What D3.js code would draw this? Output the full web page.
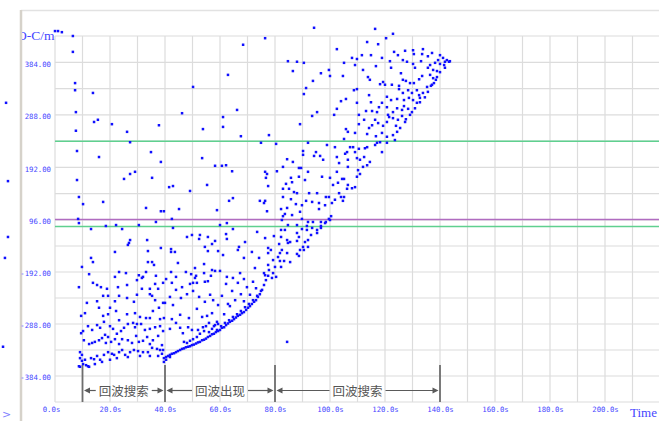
<!DOCTYPE html>
<html>
<head>
<meta charset="utf-8">
<script src="https://cdn.jsdelivr.net/npm/d3@7"></script>
<style>
  html, body { margin: 0; padding: 0; background: #fff; }
  svg { display: block; }
</style>
</head>
<body>
<svg id="chart" width="659" height="421"></svg>
<script>
// ---- axes ----
const xTickValues = [0, 20, 40, 60, 80, 100, 120, 140, 160, 180, 200];
const xGridValues = d3.range(0, 221, 10);
const yTickValues = [384, 288, 192, 96, -192, -288, -384];
const yGridValues = [432, 384, 336, 288, 240, 192, 144, 96, -48, -192, -240, -288, -336, -384, -432];

// ---- horizontal reference levels ----
const refLevels = [240, 97, 60];
const refColors = ["#5fd08f", "#b06cc0", "#5fd08f"];

// ---- phase annotation (seconds) ----
const phaseBounds = [10, 40, 80, 140];
const phaseNames = ["回波搜索", "回波出现", "回波搜索"];

// ---- samples [time s, O-C] ----
const earlyHigh = [
  [0.0,441],[1.1,441],[2.5,439],[6.5,432],[6.5,403],[7.3,346],[7.3,333],[13.8,328],[7.6,293],[14.2,275],
  [15.6,279],[20.7,271],[26.2,257],[37.8,269],[46.2,291],[50.2,339],[53.8,262],[7.6,259],
  [8.0,222],[16.0,211],[27.3,238],[34.9,220],[8.0,169],[8.7,138],[10.2,125],[17.5,129],[25.1,171],[27.3,180],
  [29.1,184],[35.3,173],[38.5,202],[41.5,156],[42.9,158],[49.1,149],[53.5,209],[55.3,160],[58.2,195],[58.9,114],
  [33.1,118],[38.5,112],[39.6,112],[45.1,116]
];
const earlyMid = [
  [8.4,98],[8.7,79],[13.1,46],[18.5,63],[22.2,68],[24.4,46],[30.5,68],[36.7,85],[42.5,98],[42.9,52],
  [48.0,2],[49.8,13],[52.4,-9],[52.7,13],[55.6,2],[54.5,-53],[55.6,-76],[57.1,-37],[58.2,-20],[59.3,-76],
  [27.3,-15],[26.9,-31],[26.5,-42],[33.5,-15],[42.2,-65],[13.1,-114],[13.8,-137],[21.8,-81],[33.8,-76],[33.8,-137],
  [35.3,-137],[36.0,-153],[38.5,-59],[42.2,-81],[43.6,-81],[44.7,-142],[9.8,-164],[12.4,-196],[21.8,-201],[23.3,-192],
  [25.8,-194],[30.5,-198],[32.0,-201],[33.1,-192],[36.7,-199],[42.2,-192],[44.0,-201],[31.6,-203],[36.4,-214],[40.4,-205],
  [47.6,-192],[49.5,-196],[50.9,-203],[51.3,-199],[54.2,-194],[55.6,-209],[56.7,-199],[58.2,-186],[50.9,-170],[54.2,-148],
  [57.1,-181]
];
const earlyLow = [
  [8.7,-220],[13.8,-212],[15.3,-216],[16.7,-220],[18.9,-223],[22.9,-220],[26.2,-216],[29.8,-207],[31.6,-223],[34.5,-223],
  [37.5,-223],[39.3,-212],[42.5,-212],[46.2,-220],[49.1,-214],[50.2,-212],[51.6,-212],[54.5,-210],
  [11.6,-249],[15.3,-246],[17.5,-236],[19.3,-236],[21.8,-246],[23.3,-236],[26.2,-240],[28.7,-247],[29.8,-234],[34.5,-233],
  [35.3,-236],[36.4,-244],[39.3,-249],[40.0,-249],[41.8,-238],[42.9,-253],[44.0,-225],[45.8,-240],[48.0,-233],[50.2,-227],
  [52.4,-238],[54.5,-247],[56.4,-234],[57.5,-244],[59.3,-253],
  [9.5,-273],[10.9,-268],[16.0,-258],[17.5,-273],[19.3,-270],[20.0,-258],[22.2,-264],[23.3,-281],[26.2,-270],[29.1,-268],
  [30.9,-275],[33.1,-277],[34.5,-277],[35.6,-264],[37.8,-258],[38.2,-279],[39.6,-277],[42.5,-279],[45.5,-271],[48.7,-277],
  [51.6,-260],[53.5,-275],[55.3,-273],[57.1,-268],[58.9,-284],
  [9.5,-305],[10.2,-301],[12.0,-292],[13.5,-299],[15.3,-290],[16.4,-295],[17.8,-284],[18.2,-308],[20.0,-292],[21.1,-297],
  [22.5,-306],[24.0,-301],[25.1,-295],[26.5,-288],[28.4,-286],[29.1,-294],[29.8,-288],[31.3,-288],[32.7,-299],[34.5,-297],
  [36.4,-294],[38.2,-292],[39.3,-301],[41.8,-297],[44.0,-286],[45.5,-295],[46.5,-305],[48.4,-294],[49.8,-299],[52.0,-299],
  [53.8,-294],[54.9,-292],[56.0,-286],[57.8,-292],[58.9,-299],
  [10.5,-318],[12.4,-325],[13.5,-323],[14.5,-321],[16.0,-318],[17.1,-314],[18.5,-323],[19.3,-312],[20.4,-321],[21.8,-316],
  [23.3,-325],[24.4,-316],[26.5,-318],[28.0,-323],[29.5,-310],[30.5,-321],[32.0,-319],[33.5,-312],[34.5,-325],[35.6,-318],
  [37.5,-310],[38.9,-327],[46.9,-321],[48.0,-323],[49.1,-319],[50.2,-316],[51.6,-312],[52.7,-306],[54.2,-301],[56.0,-303],
  [57.1,-297],[58.2,-290],[59.3,-288],
  [9.1,-340],[9.8,-345],[9.1,-351],[9.8,-356],[10.2,-362],[10.9,-354],[12.0,-366],[13.1,-351],[14.2,-353],[15.3,-347],
  [16.4,-354],[17.8,-345],[19.3,-340],[20.7,-343],[21.5,-345],[23.3,-340],[24.4,-336],[25.5,-345],[27.3,-340],[28.7,-336],
  [30.2,-338],[32.0,-340],[33.8,-340],[35.3,-332],[37.1,-334],[38.2,-336],[39.3,-336],[9.1,-367],[11.3,-364],[12.4,-367],
  [8.7,-366],[14.5,-362],[17.1,-358],[20.0,-354],[22.5,-351],[26.5,-349],[30.9,-347],[34.5,-347],[37.5,-347],[38.9,-343]
];
const ridge = [
  [39.6,-351],[40.4,-349],[41.1,-347],[41.8,-345],[42.5,-343],[43.3,-342],[44.0,-340],[44.7,-338],[45.5,-336],[46.2,-334],
  [46.9,-333],[47.6,-331],[48.4,-330],[49.1,-329],[49.8,-327],[50.5,-326],[51.3,-324],[52.0,-322],[52.7,-321],[53.5,-318],
  [54.2,-317],[54.9,-315],[55.6,-312],[56.4,-310],[57.1,-307],[57.8,-306],[58.5,-303],[59.3,-301],[60.0,-299],[60.7,-295],
  [61.5,-294],[62.2,-290],[62.9,-287],[63.6,-284],[64.4,-282],[65.1,-279],[65.8,-276],[66.5,-273],[67.3,-271],[68.0,-268],
  [68.7,-266],[69.5,-262],[70.2,-258],[70.9,-255],[71.6,-251],[72.4,-247],[73.1,-244],[73.8,-238],[74.5,-233],[75.3,-225],
  [60.4,-292],[61.8,-286],[63.3,-281],[64.7,-275],[66.2,-270],[67.6,-264],[69.1,-257],[70.5,-251],[72.0,-244],[73.5,-236],
  [74.9,-227],[76.0,-216],[76.7,-207],[77.5,-199],[39.6,-358],[40.4,-354],[41.8,-349]
];
const middle = [
  [60.7,-236],[62.2,-214],[63.6,-255],[64.4,-227],[65.5,-244],[66.5,-212],[67.6,-233],[68.7,-246],[69.8,-220],[70.9,-234],
  [72.0,-210],[61.5,-270],[62.9,-251],[73.1,-222],[84.4,-321],
  [74.9,237],[80.4,235],[92.0,237],[98.9,233],[101.8,229],[106.2,220],[107.3,229],[108.4,229],[109.1,220],[110.5,226],
  [112.7,227],[113.5,229],[116.4,233],[117.1,237],[118.2,238],[120.7,237],[118.9,220],[90.2,222],[90.2,215],[94.9,220],
  [94.2,213],[96.4,213],[97.5,206],[102.5,211],[103.3,200],[105.5,217],[106.5,206],[109.8,209],[110.9,206],[112.4,211],
  [114.5,202],[113.5,196],[112.0,193],[110.2,187],[110.9,180],[109.8,175],[106.5,193],[102.5,184],[84.4,207],[86.5,202],
  [82.9,193],[88.7,191],[89.5,191],[92.0,184],[88.7,175],[90.9,169],[97.1,175],[100.0,173],[101.1,160],[102.9,164],
  [104.4,171],[105.1,171],[106.5,160],[108.0,154],[109.1,156],[106.2,153],[85.8,173],[86.2,165],[84.0,162],[82.9,153],
  [85.1,153],[86.9,147],[88.0,145],[92.4,145],[95.3,145],[98.5,138],[99.6,138],[103.3,145],[104.0,138],[105.1,138],
  [104.7,131],[101.8,133],[100.7,127],[98.2,123],[96.0,127],[93.5,129],[91.3,131],[89.8,123],[87.6,125],[85.8,134],
  [82.9,138],[82.2,116],[84.4,118],[89.1,111],[96.0,116],[82.9,103],[83.6,107],[86.2,105],[82.5,96],[89.8,98],
  [92.0,85],[93.8,85],[96.7,85],[98.5,85],[100.0,96],[100.4,103],[99.6,98],[98.2,79],[96.7,63],[95.3,41],
  [96.7,52],[93.5,52],[91.6,63],[91.6,41],[88.0,68],[84.7,68],[82.2,41],[76.4,131],[74.5,131],[76.0,127],
  [77.1,112],[77.5,158],[76.4,184],[77.1,180],[76.7,173],[80.7,185],[60.7,195],[62.2,196],[64.4,185],[63.3,131],
  [64.7,136],[60.0,68],[62.5,79],[64.7,46],[73.5,30],[83.6,41],[88.0,24],[89.8,46],[62.2,18],[62.5,-9],
  [69.1,-26],[66.9,-53],[66.5,-70],[68.7,-114],[71.6,-81],[61.1,-98],[76.4,-4],[79.6,7],[82.2,2],[84.4,-15],
  [88.7,2],[85.5,-26],[90.9,-26],[92.0,-15],[93.1,13],[95.3,24],[81.5,-37],[84.7,-31],[88.0,-20],[90.2,-53],
  [92.0,-53],[89.1,-70],[90.5,-70],[77.5,-59],[78.5,-70],[77.5,-87],[74.2,-114],[82.5,-70],[81.8,-87],[81.1,-109],
  [84.4,-87],[88.0,-92],[88.7,-103],[85.5,-137],[83.3,-131],[81.8,-131],[79.3,-126],[77.5,-153],[80.0,-164],[82.2,-164],
  [72.7,-170],[77.8,-181],[76.0,-194],[76.4,-198],[79.3,-194],[80.4,-201],[78.9,-203],[60.0,-186],[62.5,-201],[64.7,-203],
  [67.3,-194],[68.7,-205]
];
const lateHigh = [
  [94.2,447],[76.4,428],[116.4,445],[122.9,436],[120.4,428],[113.5,421],[117.5,417],[68.4,416],[102.5,408],[133.8,408],
  [130.2,406],[123.3,403],[127.3,405],[137.1,401],[111.6,397],[114.9,397],[124.7,397],[130.5,399],[133.5,399],[135.6,395],
  [108.0,392],[109.8,390],[118.9,392],[126.5,388],[84.7,386],[88.0,385],[90.5,383],[105.1,383],[109.1,379],[121.8,386],
  [116.7,377],[128.0,385],[130.2,381],[133.1,386],[136.4,379],[138.2,383],[139.3,388],[130.9,374],[122.2,374],[86.5,368],
  [96.7,364],[99.6,370],[112.0,370],[125.8,364],[135.6,374],[137.5,370],[138.9,368],[62.9,361],[100.0,359],[104.7,359],
  [113.8,357],[114.5,352],[119.3,348],[118.2,344],[120.0,343],[122.5,343],[125.1,341],[126.5,352],[127.6,350],[129.1,346],
  [130.5,346],[132.4,353],[133.5,359],[136.4,361],[137.5,355],[138.9,357],[93.8,350],[91.3,337],[90.5,326],[108.7,333],
  [109.8,335],[114.2,324],[120.7,321],[125.1,335],[126.5,328],[128.4,333],[129.8,328],[131.6,333],[132.4,324],[133.8,328],
  [135.3,339],[136.7,341],[137.8,346],[105.8,317],[104.0,313],[109.8,310],[114.9,311],[118.9,310],[122.2,315],[124.4,317],
  [126.9,315],[128.7,319],[130.2,315],[131.6,310],[132.7,319],[66.2,297],[95.3,293],[93.5,286],[101.5,288],[102.5,299],
  [110.5,288],[113.1,295],[115.3,295],[117.1,293],[117.8,302],[120.7,302],[121.1,288],[122.9,293],[124.4,300],[126.2,297],
  [126.9,304],[128.4,299],[129.8,293],[61.1,284],[61.1,266],[89.1,271],[105.8,262],[106.5,257],[110.5,271],[112.4,279],
  [114.2,264],[115.3,269],[116.4,279],[117.5,273],[119.3,268],[120.7,275],[121.5,284],[122.9,282],[124.0,268],[124.7,279],
  [126.2,286],[127.6,280],[113.5,253],[109.1,255],[105.1,244],[77.8,251],[67.6,249],[116.7,249],[118.9,255],[120.7,248],
  [122.9,251],[124.4,257],[123.6,242],[125.5,264],[127.3,275],[129.1,288],[130.9,300],[132.7,311],[134.5,320],[135.6,330],
  [137.1,343],[138.5,352],[140.0,366]
];
const tail = [[140.0,397],[141.1,392],[141.8,385],[142.5,388],[143.3,385],[141.8,374],[140.0,381],[141.5,379],[143.6,386]];
const offAxis = [[-17.8,310],[-17.1,167],[-17.1,2],[-18.2,-114],[-18.9,-330]];

const samples = [].concat(earlyHigh, earlyMid, earlyLow, ridge, middle, lateHigh, tail, offAxis);

// ---- layout ----
const svg = d3.select("#chart");
const plot = { left: 55, right: 659, top: 36, bottom: 402 };

const x = d3.scaleLinear().domain([0, 220]).range([55, 660]);
// the value axis is stretched differently above and below the 96 level
const y = d3.scaleLinear().domain([-432, -192, 96, 432]).range([402, 272, 220, 36]);

const fmt = v => v.toFixed(2);
const blue = "#4646ff";
const monoFont = "'DejaVu Sans Mono', monospace";

// outer frame
svg.append("rect").attr("x", 0).attr("y", 0).attr("width", 659).attr("height", 421).attr("fill", "#fff");
svg.append("line").attr("x1", 21).attr("x2", 659).attr("y1", 10.5).attr("y2", 10.5)
  .attr("stroke", "#e2e2e2").attr("stroke-width", 1.5);
svg.append("line").attr("x1", 21).attr("x2", 21).attr("y1", 10).attr("y2", 421)
  .attr("stroke", "#d6d2ca").attr("stroke-width", 2.5);

// grid
const grid = svg.append("g").attr("stroke", "#dcdcdc").attr("stroke-width", 1.2);
grid.selectAll("line.v").data(xGridValues).join("line")
  .attr("x1", d => x(d)).attr("x2", d => x(d))
  .attr("y1", plot.top).attr("y2", plot.bottom);
grid.selectAll("line.h").data(yGridValues).join("line")
  .attr("x1", plot.left).attr("x2", plot.right)
  .attr("y1", d => y(d)).attr("y2", d => y(d));

// reference levels
svg.append("g").selectAll("line").data(refLevels).join("line")
  .attr("x1", plot.left).attr("x2", plot.right)
  .attr("y1", d => y(d)).attr("y2", d => y(d))
  .attr("stroke", (d, i) => refColors[i]).attr("stroke-width", 1.5);

// y axis labels
const yAxis = d3.axisLeft(y).tickValues(yTickValues).tickFormat(fmt).tickSize(0).tickPadding(0);
const gy = svg.append("g").attr("transform", "translate(51,1.5)").call(yAxis);
gy.select(".domain").remove();
gy.selectAll("text").attr("fill", blue).attr("font-family", monoFont).attr("font-size", 7.3);

// x axis labels
const xAxis = d3.axisBottom(x).tickValues(xTickValues).tickFormat(d => d.toFixed(1) + "s").tickSize(0).tickPadding(0);
const gx = svg.append("g").attr("transform", "translate(0,407)").call(xAxis);
gx.select(".domain").remove();
gx.selectAll("text").attr("fill", blue).attr("font-family", monoFont).attr("font-size", 7.3);
gx.selectAll(".tick").filter(d => d === 0).select("text").attr("dx", -4);

// axis titles
svg.append("defs").append("clipPath").attr("id", "titleClip")
  .append("rect").attr("x", 22).attr("y", 20).attr("width", 40).attr("height", 30);
svg.append("text").attr("x", 17).attr("y", 40).attr("clip-path", "url(#titleClip)")
  .attr("font-family", "'Liberation Serif', serif").attr("font-size", 13.5).attr("fill", blue)
  .text("O-C/m");
svg.append("text").attr("x", 630).attr("y", 417)
  .attr("font-family", "'Liberation Serif', serif").attr("font-size", 13).attr("fill", blue)
  .text("Time");
svg.append("text").attr("x", 2).attr("y", 418)
  .attr("font-family", "'DejaVu Sans', sans-serif").attr("font-size", 11).attr("fill", "#8080ff")
  .text(">");

// phase markers and arrows
const ann = svg.append("g");
const markTop = 365, arrowY = 390.5, annColor = "#5a5a5a";
ann.selectAll("line.mark").data(phaseBounds).join("line")
  .attr("x1", d => x(d)).attr("x2", d => x(d))
  .attr("y1", markTop).attr("y2", plot.bottom)
  .attr("stroke", "#6e6e6e").attr("stroke-width", 1.8);

function arrowHead(xTip, dir) {
  const len = 6, half = 3;
  ann.append("path")
    .attr("d", `M${xTip},${arrowY} L${xTip - dir * len},${arrowY - half} L${xTip - dir * len},${arrowY + half} Z`)
    .attr("fill", annColor);
}
phaseNames.forEach((name, i) => {
  const x0 = x(phaseBounds[i]) + 1.5, x1 = x(phaseBounds[i + 1]) - 1.5;
  const mid = (x0 + x1) / 2;
  const t = ann.append("text").attr("x", mid).attr("y", arrowY + 5)
    .attr("text-anchor", "middle")
    .attr("font-family", "'Noto Sans CJK SC', sans-serif").attr("font-size", 12.5)
    .attr("fill", "#555").text(name);
  const w = t.node().getComputedTextLength();
  ann.append("line").attr("x1", x0 + 2).attr("x2", mid - w / 2 - 3)
    .attr("y1", arrowY).attr("y2", arrowY).attr("stroke", annColor).attr("stroke-width", 1.2);
  ann.append("line").attr("x1", mid + w / 2 + 3).attr("x2", x1 - 2)
    .attr("y1", arrowY).attr("y2", arrowY).attr("stroke", annColor).attr("stroke-width", 1.2);
  arrowHead(x0, -1);
  arrowHead(x1, 1);
});

// samples
const s = 2.5;
svg.append("g").selectAll("rect").data(samples).join("rect")
  .attr("x", d => x(d[0]) - s / 2).attr("y", d => y(d[1]) - s / 2)
  .attr("width", s).attr("height", s)
  .attr("fill", "#1010ff");
</script>
</body>
</html>
